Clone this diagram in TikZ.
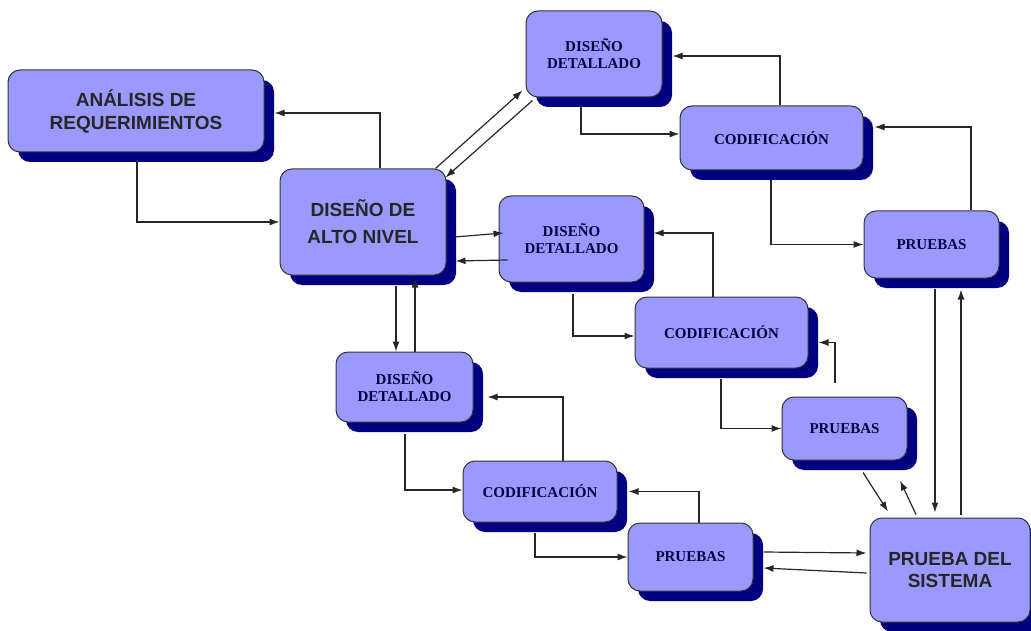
\documentclass[tikz,border=0pt]{standalone}
\usepackage{fontspec}
\setmainfont{Liberation Serif}
\setsansfont{Liberation Sans}
\usepackage{tikz}
\usetikzlibrary{arrows.meta,shadows}
\usepackage{xcolor}
\definecolor{boxfill}{RGB}{153, 153, 255}
\definecolor{boxshadow}{RGB}{0, 0, 128}

\begin{document}
\begin{tikzpicture}[x=1pt, y=-1pt, >={Latex[length=10pt, width=7pt]},
    phase/.style={draw=black!80, line width=1pt, fill=boxfill, rounded corners=12pt,
      general shadow={fill=boxshadow, shadow xshift=10pt, shadow yshift=-10pt},
      align=center, inner sep=2pt},
    biglabel/.style={font=\sffamily\bfseries\fontsize{19}{23}\selectfont, text=black!85},
    smalllabel/.style={font=\rmfamily\bfseries\fontsize{15}{17}\selectfont, text=black!75!blue},
    link/.style={->, line width=1.2pt, black!85}]
    \useasboundingbox (0,0) rectangle (1031,631);
    % main phases
    \node[phase, biglabel, minimum width=256pt, minimum height=82pt] (ana) at (136,111) {ANÁLISIS DE\\REQUERIMIENTOS};
    \node[phase, biglabel, minimum width=166pt, minimum height=106pt, font=\sffamily\bfseries\fontsize{19}{27}\selectfont] (dan) at (363,222) {DISEÑO DE\\ALTO NIVEL};
    \node[phase, biglabel, minimum width=160pt, minimum height=104pt, font=\sffamily\bfseries\fontsize{19}{22}\selectfont] (pds) at (950,570) {PRUEBA DEL\\SISTEMA};
    % upper branch
    \node[phase, smalllabel, minimum width=136pt, minimum height=86pt] (ddt) at (594,54) {DISEÑO\\DETALLADO};
    \node[phase, smalllabel, minimum width=183pt, minimum height=64pt] (codt) at (771.5,138) {CODIFICACIÓN};
    \node[phase, smalllabel, minimum width=135pt, minimum height=67pt] (prt) at (931.5,244.5) {PRUEBAS};
    % middle branch
    \node[phase, smalllabel, minimum width=145pt, minimum height=86pt] (ddm) at (571.5,239) {DISEÑO\\DETALLADO};
    \node[phase, smalllabel, minimum width=173pt, minimum height=71pt] (codm) at (721.5,332.5) {CODIFICACIÓN};
    \node[phase, smalllabel, minimum width=125pt, minimum height=63pt] (prm) at (844.5,428.5) {PRUEBAS};
    % lower branch
    \node[phase, smalllabel, minimum width=137pt, minimum height=70pt] (ddl) at (404.5,387) {DISEÑO\\DETALLADO};
    \node[phase, smalllabel, minimum width=154pt, minimum height=61pt] (codl) at (540,491.5) {CODIFICACIÓN};
    \node[phase, smalllabel, minimum width=125pt, minimum height=68pt] (prl) at (690.5,557) {PRUEBAS};

    % high level design
    \draw[link] ([xshift=17pt]dan.north) |- ([xshift=10pt, yshift=-2pt]ana.east);
    \draw[link] ([xshift=1pt, yshift=-8pt]ana.south) |- (dan.west);
    \draw[link] ([xshift=-11pt]dan.north east) -- ([xshift=-3pt, yshift=7pt]ddt.south west);
    \draw[link] ([xshift=7pt, yshift=-3pt]ddt.south west) -- ([xshift=-1pt, yshift=-9pt]dan.north east);
    \draw[link] ([xshift=8pt, yshift=-15pt]dan.east) -- ([xshift=5pt, yshift=6pt]ddm.west);
    \draw[link] ([xshift=9pt, yshift=-21pt]ddm.west) -- ([xshift=9pt, yshift=-39pt]dan.east);
    \draw[link] ([xshift=33pt, yshift=-10pt]dan.south) -- ([xshift=-8.5pt]ddl.north);
    \draw[link] ([xshift=10.5pt]ddl.north) -- ([xshift=52pt, yshift=-2pt]dan.south);

    % upper branch
    \draw[link] ([xshift=-13pt, yshift=-10pt]ddt.south) |- ([yshift=4pt]codt.west);
    \draw[link] ([xshift=8.5pt]codt.north) |- ([xshift=10pt, yshift=-2pt]ddt.east);
    \draw[link] ([xshift=-0.5pt, yshift=-10pt]codt.south) |- (prt.west);
    \draw[link] ([xshift=39.5pt]prt.north) |- ([xshift=11pt, yshift=11pt]codt.east);
    \draw[link] ([xshift=3.5pt, yshift=-10pt]prt.south) -- ([xshift=-15pt, yshift=5pt]pds.north);
    \draw[link] ([xshift=11pt, yshift=3pt]pds.north) -- ([xshift=29.5pt, yshift=-11pt]prt.south);

    % middle branch
    \draw[link] ([xshift=1.5pt, yshift=-11pt]ddm.south) |- ([yshift=-3.5pt]codm.west);
    \draw[link] ([xshift=-8.5pt]codm.north) |- ([xshift=9pt, yshift=6pt]ddm.east);
    \draw[link] ([xshift=-0.5pt, yshift=-10pt]codm.south) |- (prm.west);
    \draw[link] ([xshift=-9.5pt, yshift=14pt]prm.north) |- ([xshift=10pt, yshift=-10pt]codm.east);
    \draw[link] ([xshift=18.5pt, yshift=-12pt]prm.south) -- ([xshift=-62pt, yshift=6pt]pds.north);
    \draw[link] ([xshift=-34pt, yshift=3pt]pds.north) -- ([xshift=55.5pt, yshift=-20pt]prm.south);

    % lower branch
    \draw[link] ([xshift=0.5pt, yshift=-11pt]ddl.south) |- ([yshift=1.5pt]codl.west);
    \draw[link] ([xshift=23pt]codl.north) |- ([xshift=14pt, yshift=-10pt]ddl.east);
    \draw[link] ([xshift=-5pt, yshift=-10pt]codl.south) |- (prl.west);
    \draw[link] ([xshift=8.5pt]prl.north) |- ([xshift=11pt]codl.east);
    \draw[link] ([xshift=10pt, yshift=5pt]prl.east) -- ([xshift=-3pt, yshift=17pt]pds.west);
    \draw[link] ([xshift=-3pt, yshift=-3pt]pds.west) -- ([xshift=10pt, yshift=-11pt]prl.east);
\end{tikzpicture}
\end{document}
